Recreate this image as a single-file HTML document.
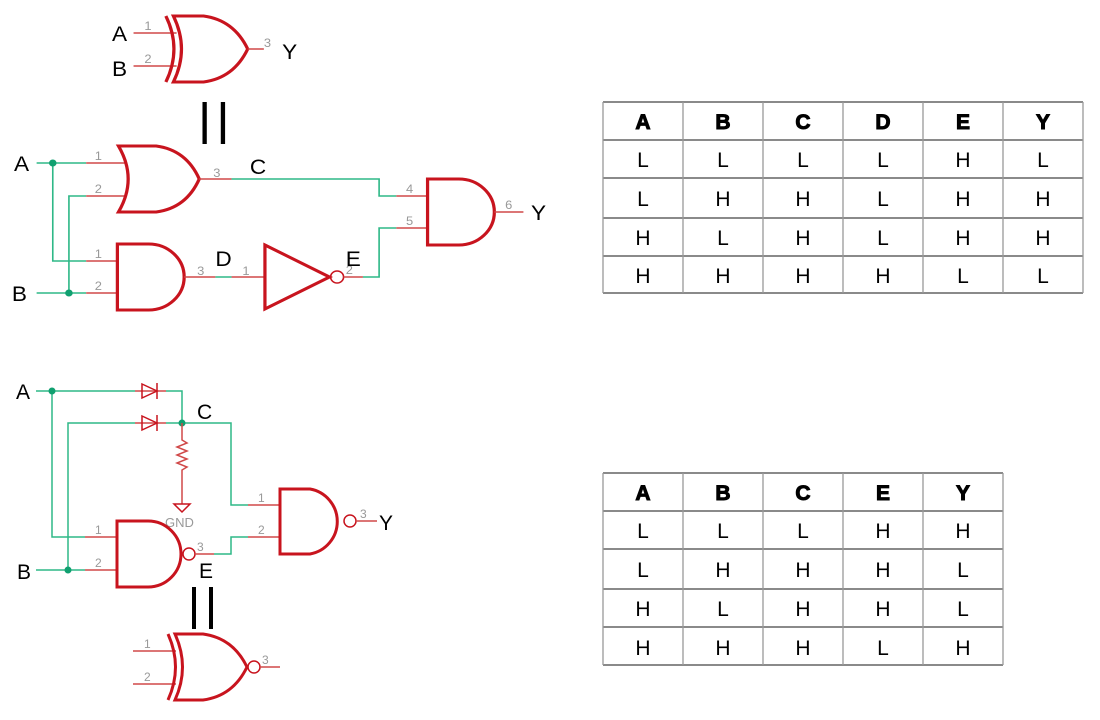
<!DOCTYPE html>
<html><head><meta charset="utf-8"><style>
body{margin:0;background:#fff}
svg{display:block}
.g{stroke:#2eb887;stroke-width:1.5;fill:none}
.r{stroke:#d04848;stroke-width:1.5;fill:none}
.b{stroke:#c8141e;stroke-width:3;fill:none}
.n{font-family:"Liberation Sans",sans-serif;font-size:12px;fill:#999}
.L{font-family:"Liberation Sans",sans-serif;font-size:21px;fill:#000}
.th{font-family:"Liberation Sans",sans-serif;font-size:21px;font-weight:bold;fill:#000;text-anchor:middle;stroke:#000;stroke-width:1}
.td{font-family:"Liberation Sans",sans-serif;font-size:21px;fill:#000;text-anchor:middle}
.t{stroke:#444;stroke-width:1.3}
</style></head><body>
<svg width="1100" height="720" viewBox="0 0 1100 720">
<g transform="scale(1.077,1)">
<!-- top XOR -->
<text class="L" x="104" y="41">A</text><text class="L" x="104" y="76">B</text>
<line class="r" x1="124" y1="33" x2="164" y2="33"/><line class="r" x1="124" y1="66" x2="164" y2="66"/>
<text class="n" x="134" y="30">1</text><text class="n" x="134" y="63">2</text>
<path class="b" d="M154,16 Q169,49 154,82"/>
<path class="b" d="M161,16 L189,16 Q217,20 230,49 Q217,78 189,82 L161,82 Q176,49 161,16Z"/>
<line class="r" x1="230" y1="49" x2="245" y2="49"/><text class="n" x="245" y="47">3</text>
<text class="L" x="262" y="59">Y</text>
<rect x="188" y="102" width="4" height="42" fill="#000"/><rect x="205" y="102" width="4" height="42" fill="#000"/>

<!-- circuit 1 -->
<text class="L" x="13" y="171">A</text><text class="L" x="11" y="301">B</text>
<polyline class="g" points="34,163 80,163"/><polyline class="g" points="49,163 49,261 80,261"/>
<polyline class="g" points="34,293 80,293"/><polyline class="g" points="64,293 64,196 80,196"/>
<circle cx="49" cy="163" r="3.5" fill="#10a070"/><circle cx="64" cy="293" r="3.5" fill="#10a070"/>
<line class="r" x1="80" y1="163" x2="116" y2="163"/><line class="r" x1="80" y1="196" x2="116" y2="196"/>
<line class="r" x1="80" y1="261" x2="109" y2="261"/><line class="r" x1="80" y1="293" x2="109" y2="293"/>
<text class="n" x="88" y="160">1</text><text class="n" x="88" y="193">2</text><text class="n" x="88" y="258">1</text><text class="n" x="88" y="290">2</text>
<path class="b" d="M110,146 L145,146 Q173,150 185,179 Q173,208 145,212 L110,212 Q128,179 110,146Z"/>
<path class="b" d="M109,244 L138,244 A33,33 0 0 1 138,310 L109,310Z"/>
<line class="r" x1="185" y1="179" x2="215" y2="179"/><text class="n" x="198" y="177">3</text>
<polyline class="g" points="215,179 352,179 352,196 368,196"/>
<line class="r" x1="368" y1="196" x2="396" y2="196"/><text class="n" x="377" y="193">4</text>
<text class="L" x="232" y="174">C</text>
<line class="r" x1="171" y1="277" x2="200" y2="277"/><text class="n" x="183" y="275">3</text>
<line class="g" x1="200" y1="277" x2="215" y2="277"/>
<line class="r" x1="215" y1="277" x2="245" y2="277"/><text class="n" x="225" y="275">1</text>
<text class="L" x="200" y="266">D</text>
<path class="b" d="M246,245 L306,277 L246,309Z"/>
<circle cx="313" cy="277" r="6" fill="none" stroke="#c8141e" stroke-width="1.5"/>
<line class="r" x1="319" y1="277" x2="337" y2="277"/><text class="n" x="321" y="274">2</text>
<text class="L" x="321" y="266">E</text>
<polyline class="g" points="337,277 352,277 352,228 368,228"/>
<line class="r" x1="368" y1="228" x2="396" y2="228"/><text class="n" x="377" y="225">5</text>
<path class="b" d="M397,179 L426,179 A33,33 0 0 1 426,245 L397,245Z"/>
<line class="r" x1="459" y1="212" x2="486" y2="212"/><text class="n" x="469" y="209">6</text>
<text class="L" x="493" y="220">Y</text>
</g>

<!-- table 1 -->
<g class="t">
<line x1="603" y1="102" x2="1083" y2="102"/><line x1="603" y1="140" x2="1083" y2="140"/><line x1="603" y1="178" x2="1083" y2="178"/><line x1="603" y1="218" x2="1083" y2="218"/><line x1="603" y1="256" x2="1083" y2="256"/><line x1="603" y1="293" x2="1083" y2="293"/>
<line x1="603" y1="102" x2="603" y2="293" stroke="#999"/><line x1="683" y1="102" x2="683" y2="293" stroke="#999"/><line x1="763" y1="102" x2="763" y2="293" stroke="#999"/><line x1="843" y1="102" x2="843" y2="293" stroke="#999"/><line x1="923" y1="102" x2="923" y2="293" stroke="#999"/><line x1="1003" y1="102" x2="1003" y2="293" stroke="#999"/><line x1="1083" y1="102" x2="1083" y2="293" stroke="#999"/>
</g>
<g class="th"><text x="643" y="129">A</text><text x="723" y="129">B</text><text x="803" y="129">C</text><text x="883" y="129">D</text><text x="963" y="129">E</text><text x="1043" y="129">Y</text></g>
<g class="td">
<text x="643" y="167">L</text><text x="723" y="167">L</text><text x="803" y="167">L</text><text x="883" y="167">L</text><text x="963" y="167">H</text><text x="1043" y="167">L</text>
<text x="643" y="206">L</text><text x="723" y="206">H</text><text x="803" y="206">H</text><text x="883" y="206">L</text><text x="963" y="206">H</text><text x="1043" y="206">H</text>
<text x="643" y="245">H</text><text x="723" y="245">L</text><text x="803" y="245">H</text><text x="883" y="245">L</text><text x="963" y="245">H</text><text x="1043" y="245">H</text>
<text x="643" y="283">H</text><text x="723" y="283">H</text><text x="803" y="283">H</text><text x="883" y="283">H</text><text x="963" y="283">L</text><text x="1043" y="283">L</text>
</g>

<!-- circuit 2 -->
<text class="L" x="16" y="399">A</text><text class="L" x="17" y="579">B</text>
<polyline class="g" points="36,391 135,391"/><polyline class="g" points="52,391 52,537 85,537"/>
<polyline class="g" points="36,570 85,570"/><polyline class="g" points="68,570 68,423 135,423"/>
<circle cx="52" cy="391" r="3.5" fill="#10a070"/><circle cx="68" cy="570" r="3.5" fill="#10a070"/>
<line class="r" x1="135" y1="391" x2="166" y2="391"/><line class="r" x1="135" y1="423" x2="166" y2="423"/>
<path d="M142,384 L157,391 L142,398Z" fill="none" stroke="#c8141e" stroke-width="1.5"/><line x1="157" y1="383" x2="157" y2="399" stroke="#c8141e" stroke-width="1.5"/>
<path d="M142,416 L157,423 L142,430Z" fill="none" stroke="#c8141e" stroke-width="1.5"/><line x1="157" y1="415" x2="157" y2="431" stroke="#c8141e" stroke-width="1.5"/>
<polyline class="g" points="166,391 182,391 182,423"/>
<polyline class="g" points="166,423 231,423 231,505 248,505"/>
<circle cx="182" cy="423" r="3.5" fill="#10a070"/>
<text class="L" x="197" y="419">C</text>
<polyline class="r" points="182,423 182,440 187,443 177,447 187,451 177,455 187,459 177,463 187,467 182,470 182,504"/>
<path d="M174,504 L190,504 L182,512Z" fill="none" stroke="#c8141e" stroke-width="1.5"/>
<text class="n" x="165" y="527" style="font-size:13px">GND</text>
<line class="r" x1="85" y1="537" x2="117" y2="537"/><line class="r" x1="85" y1="570" x2="117" y2="570"/>
<text class="n" x="95" y="534">1</text><text class="n" x="95" y="567">2</text>
<path class="b" d="M117,521 L148,521 A33,33 0 0 1 148,587 L117,587Z"/>
<circle cx="189" cy="554" r="6" fill="none" stroke="#c8141e" stroke-width="1.5"/>
<line class="r" x1="195" y1="554" x2="214" y2="554"/><text class="n" x="197" y="551">3</text>
<polyline class="g" points="214,554 231,554 231,537 248,537"/>
<line class="r" x1="248" y1="537" x2="279" y2="537"/><line class="r" x1="248" y1="505" x2="279" y2="505"/>
<text class="n" x="258" y="502">1</text><text class="n" x="258" y="534">2</text>
<text class="L" x="199" y="578">E</text>
<path class="b" d="M280,489 L310,489 A33,33 0 0 1 310,554 L280,554Z"/>
<circle cx="350" cy="521" r="6" fill="none" stroke="#c8141e" stroke-width="1.5"/>
<line class="r" x1="356" y1="521" x2="377" y2="521"/><text class="n" x="360" y="518">3</text>
<text class="L" x="379" y="530">Y</text>
<rect x="192" y="587" width="4" height="42" fill="#000"/><rect x="209" y="587" width="4" height="42" fill="#000"/>
<!-- bottom XNOR -->
<line class="r" x1="133" y1="651" x2="176" y2="651"/><line class="r" x1="133" y1="684" x2="176" y2="684"/>
<text class="n" x="144" y="648">1</text><text class="n" x="144" y="681">2</text>
<path class="b" d="M168,634 Q183,667 168,700"/>
<path class="b" d="M175,634 L203,634 Q233,638 247,667 Q233,696 203,700 L175,700 Q190,667 175,634Z"/>
<circle cx="254" cy="667" r="6" fill="none" stroke="#c8141e" stroke-width="1.5"/>
<line class="r" x1="260" y1="667" x2="280" y2="667"/><text class="n" x="262" y="664">3</text>

<!-- table 2 -->
<g class="t">
<line x1="603" y1="473" x2="1003" y2="473"/><line x1="603" y1="511" x2="1003" y2="511"/><line x1="603" y1="549" x2="1003" y2="549"/><line x1="603" y1="589" x2="1003" y2="589"/><line x1="603" y1="627" x2="1003" y2="627"/><line x1="603" y1="665" x2="1003" y2="665"/>
<line x1="603" y1="473" x2="603" y2="665" stroke="#999"/><line x1="683" y1="473" x2="683" y2="665" stroke="#999"/><line x1="763" y1="473" x2="763" y2="665" stroke="#999"/><line x1="843" y1="473" x2="843" y2="665" stroke="#999"/><line x1="923" y1="473" x2="923" y2="665" stroke="#999"/><line x1="1003" y1="473" x2="1003" y2="665" stroke="#999"/>
</g>
<g class="th"><text x="643" y="500">A</text><text x="723" y="500">B</text><text x="803" y="500">C</text><text x="883" y="500">E</text><text x="963" y="500">Y</text></g>
<g class="td">
<text x="643" y="538">L</text><text x="723" y="538">L</text><text x="803" y="538">L</text><text x="883" y="538">H</text><text x="963" y="538">H</text>
<text x="643" y="577">L</text><text x="723" y="577">H</text><text x="803" y="577">H</text><text x="883" y="577">H</text><text x="963" y="577">L</text>
<text x="643" y="616">H</text><text x="723" y="616">L</text><text x="803" y="616">H</text><text x="883" y="616">H</text><text x="963" y="616">L</text>
<text x="643" y="655">H</text><text x="723" y="655">H</text><text x="803" y="655">H</text><text x="883" y="655">L</text><text x="963" y="655">H</text>
</g>
</svg>
</body></html>
